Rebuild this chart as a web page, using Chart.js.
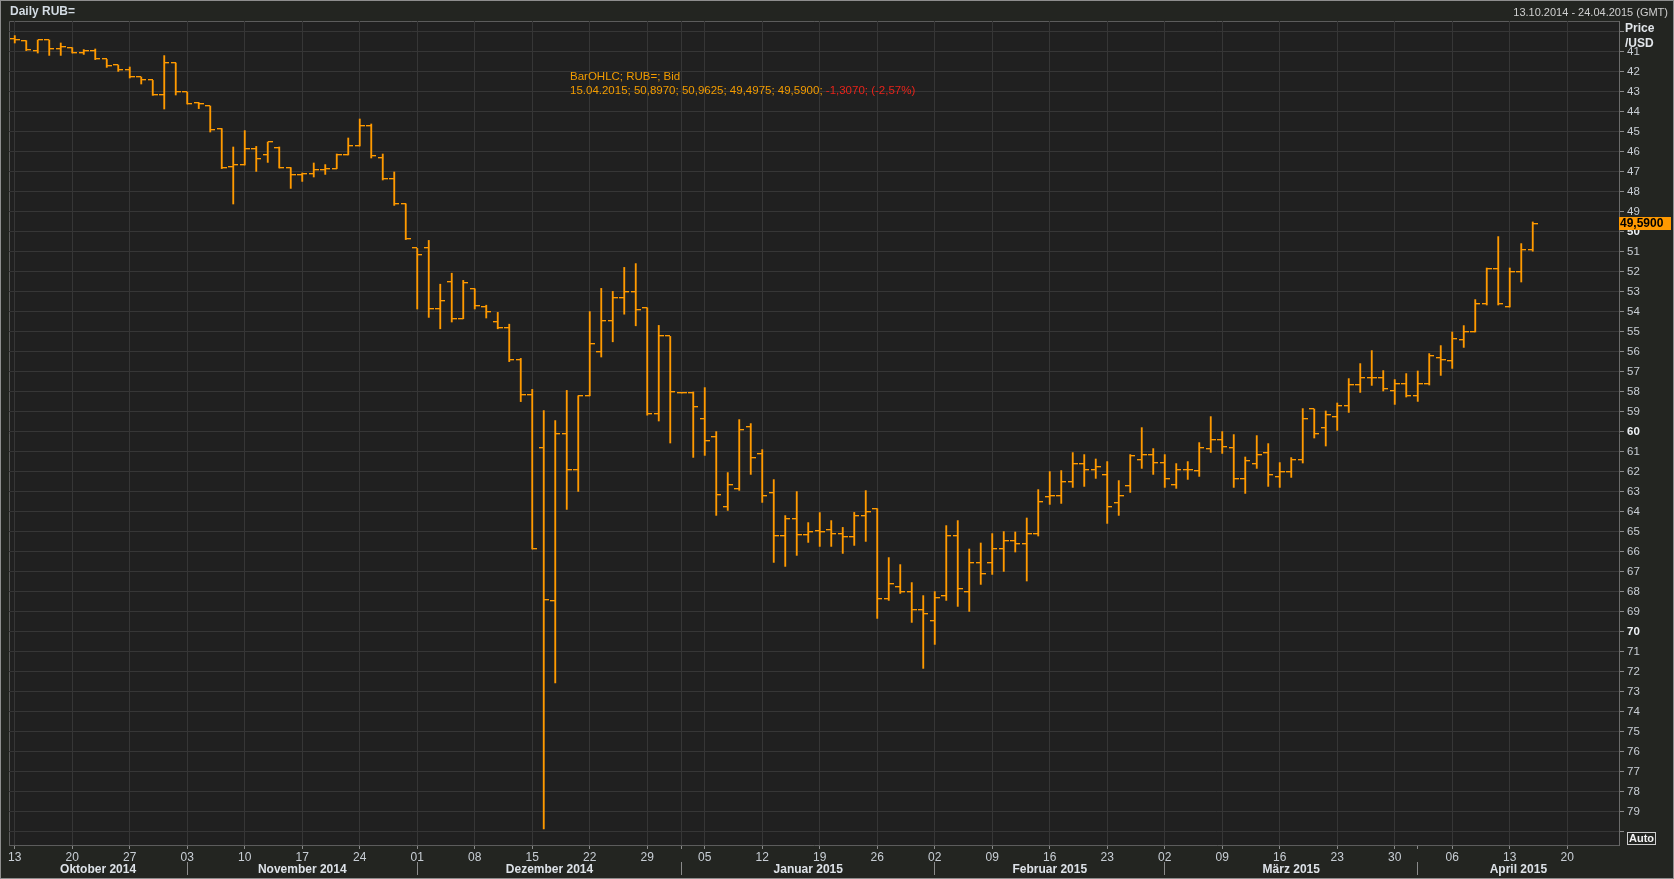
<!DOCTYPE html>
<html>
<head>
<meta charset="utf-8">
<script src="https://cdn.jsdelivr.net/npm/chart.js@4.4.1/dist/chart.umd.min.js"></script>
<style>
  html, body { margin: 0; padding: 0; background: #232521; }
  #wrap { position: relative; width: 1674px; height: 879px; overflow: hidden; font-family: 'Liberation Sans', Arial, sans-serif; }
  #wrap canvas { position: absolute; left: 0; top: 0; }
  .txt { position: absolute; white-space: pre; }
  #title { left: 10px; top: 4px; font-size: 12px; font-weight: bold; color: #d3dbe3; line-height: 14px; }
  #range { right: 6px; top: 5px; font-size: 11px; color: #cfcfcf; line-height: 14px; }
  #legend { left: 570px; top: 69px; font-size: 11.5px; line-height: 14px; color: #f39c00; }
  #legend .neg { color: #e8231a; }
  #unit { left: 1625px; top: 21px; font-size: 12px; font-weight: bold; color: #e2e6ea; line-height: 15px; }
  #last { left: 1619px; width: 51px; height: 13px; background: #ff9900; color: #000; font-size: 12px; font-weight: bold; line-height: 13px; padding-left: 1px; }
  #auto { left: 1627px; top: 832px; width: 27px; height: 11px; border: 1px solid #cfcfcf; color: #f2f2f2; font-size: 11px; font-weight: bold; line-height: 11px; text-align: center; }
</style>
</head>
<body>
<div id="wrap">
  <canvas id="chart" width="1674" height="879"></canvas>
  <div class="txt" id="title">Daily RUB=</div>
  <div class="txt" id="range">13.10.2014 - 24.04.2015 (GMT)</div>
  <div class="txt" id="legend"></div>
  <div class="txt" id="unit">Price
/USD</div>
  <div class="txt" id="last"></div>
  <div class="txt" id="auto">Auto</div>
</div>
<script>
// weekdays shown on the axis (13.10.2014 - 24.04.2015)
const dates = [
  '13.10.2014','14.10.2014','15.10.2014','16.10.2014','17.10.2014',
  '20.10.2014','21.10.2014','22.10.2014','23.10.2014','24.10.2014',
  '27.10.2014','28.10.2014','29.10.2014','30.10.2014','31.10.2014',
  '03.11.2014','04.11.2014','05.11.2014','06.11.2014','07.11.2014',
  '10.11.2014','11.11.2014','12.11.2014','13.11.2014','14.11.2014',
  '17.11.2014','18.11.2014','19.11.2014','20.11.2014','21.11.2014',
  '24.11.2014','25.11.2014','26.11.2014','27.11.2014','28.11.2014',
  '01.12.2014','02.12.2014','03.12.2014','04.12.2014','05.12.2014',
  '08.12.2014','09.12.2014','10.12.2014','11.12.2014','12.12.2014',
  '15.12.2014','16.12.2014','17.12.2014','18.12.2014','19.12.2014',
  '22.12.2014','23.12.2014','24.12.2014','25.12.2014','26.12.2014',
  '29.12.2014','30.12.2014','31.12.2014','01.01.2015','02.01.2015',
  '05.01.2015','06.01.2015','07.01.2015','08.01.2015','09.01.2015',
  '12.01.2015','13.01.2015','14.01.2015','15.01.2015','16.01.2015',
  '19.01.2015','20.01.2015','21.01.2015','22.01.2015','23.01.2015',
  '26.01.2015','27.01.2015','28.01.2015','29.01.2015','30.01.2015',
  '02.02.2015','03.02.2015','04.02.2015','05.02.2015','06.02.2015',
  '09.02.2015','10.02.2015','11.02.2015','12.02.2015','13.02.2015',
  '16.02.2015','17.02.2015','18.02.2015','19.02.2015','20.02.2015',
  '23.02.2015','24.02.2015','25.02.2015','26.02.2015','27.02.2015',
  '02.03.2015','03.03.2015','04.03.2015','05.03.2015','06.03.2015',
  '09.03.2015','10.03.2015','11.03.2015','12.03.2015','13.03.2015',
  '16.03.2015','17.03.2015','18.03.2015','19.03.2015','20.03.2015',
  '23.03.2015','24.03.2015','25.03.2015','26.03.2015','27.03.2015',
  '30.03.2015','31.03.2015','01.04.2015','02.04.2015','03.04.2015',
  '06.04.2015','07.04.2015','08.04.2015','09.04.2015','10.04.2015',
  '13.04.2015','14.04.2015','15.04.2015','16.04.2015','17.04.2015',
  '20.04.2015','21.04.2015','22.04.2015','23.04.2015','24.04.2015'
];

const open = [
  40.35,40.43,40.95,40.40,40.85, 40.78,41.05,40.93,41.37,41.65,
  41.92,42.25,42.42,43.15,41.55, 43.00,43.53,43.70,44.83,46.77,
  46.65,45.83,46.15,45.82,46.78, 47.15,47.10,46.90,46.83,46.15,
  45.68,44.70,46.30,47.35,48.59, 50.82,50.78,53.83,52.48,54.34,
  52.84,53.73,54.48,54.82,56.38, 58.13,60.82,68.44,60.10,61.89,
  58.19,56.00,54.44,53.31,52.99, 53.79,59.09,55.22,58.05,58.05,
  59.35,60.25,63.75,62.85,59.75, 61.10,63.05,65.20,64.35,65.15,
  64.95,64.90,65.10,65.23,64.20, 63.83,68.35,67.75,68.00,68.90,
  69.45,68.20,65.20,68.00,66.55, 66.55,65.85,65.45,65.60,65.10,
  63.25,63.20,62.48,61.60,61.90, 62.15,63.55,62.70,61.40,61.15,
  61.53,62.65,61.90,61.95,60.85, 60.40,60.80,62.35,61.60,61.03,
  62.25,61.98,61.40,58.85,59.80, 59.25,58.70,57.65,57.30,57.30,
  57.95,57.58,58.20,57.58,56.30, 56.45,55.40,55.00,53.60,51.85,
  53.75,52.00,50.897,null,null, null,null,null,null,null
];
const high = [
  40.55,40.93,41.05,41.17,41.17, 41.05,41.12,41.38,41.77,41.97,
  42.30,42.60,43.17,43.85,43.15, 43.60,43.83,45.00,46.83,48.60,
  46.65,46.97,46.52,46.80,47.82, 47.47,47.25,47.12,46.83,46.15,
  45.70,46.30,47.40,48.67,50.38, 53.85,54.27,54.84,54.50,54.34,
  53.85,54.30,54.84,56.48,58.48, 65.85,79.85,72.55,63.87,62.97,
  58.19,56.25,55.49,54.11,54.69, 59.16,59.45,60.55,58.05,61.27,
  61.17,64.17,63.92,62.92,62.12, 63.52,66.52,66.72,66.17,65.52,
  65.72,65.72,66.07,65.67,65.47, 69.32,68.42,68.07,69.52,71.82,
  70.62,68.42,68.72,68.97,67.62, 67.12,66.97,66.00,67.45,65.20,
  63.62,63.57,62.77,62.72,62.32, 64.57,64.17,63.02,61.82,62.12,
  62.77,62.82,62.37,62.22,61.02, 61.07,62.77,63.07,61.82,62.72,
  62.77,62.27,61.55,60.30,60.70, 59.92,59.02,58.02,57.67,57.95,
  58.62,58.25,58.47,57.65,57.17, 56.82,55.77,55.00,53.65,53.65,
  53.75,52.50,50.9625,null,null, null,null,null,null,null
];
const low = [
  40.18,40.43,40.40,40.40,40.55, 40.78,40.88,40.85,41.37,41.65,
  41.75,42.25,42.42,41.18,41.55, 43.00,43.53,43.70,44.83,45.75,
  44.93,45.72,45.50,45.75,46.78, 47.05,46.55,46.63,46.10,45.30,
  44.35,44.60,46.10,47.00,48.59, 50.82,50.42,52.61,52.06,52.42,
  52.84,53.66,54.02,54.61,56.32, 57.87,58.93,59.43,57.92,58.19,
  53.98,52.82,52.97,51.77,51.58, 53.79,54.67,55.22,58.05,58.00,
  57.78,59.98,62.03,59.38,59.58, 60.88,62.38,64.18,62.98,64.53,
  64.03,64.43,64.77,64.02,62.93, 63.83,66.28,66.63,67.53,68.18,
  67.98,64.68,64.43,65.85,65.55, 65.08,64.98,65.00,64.30,62.88,
  61.98,61.93,61.03,61.13,61.35, 61.48,62.43,61.13,59.78,60.83,
  61.13,61.58,61.48,60.53,59.23, 59.98,60.13,61.25,60.18,60.58,
  61.53,61.28,58.83,58.85,58.95, 58.55,57.33,56.58,55.93,56.93,
  57.38,57.08,56.95,56.08,55.68, 55.00,54.68,53.38,51.80,50.23,
  51.80,50.58,49.4975,null,null, null,null,null,null,null
];
const close = [
  40.38,40.92,40.40,40.85,40.75, 41.05,40.95,41.37,41.72,41.92,
  42.27,42.42,43.15,41.55,43.00, 43.60,43.60,44.88,46.80,46.65,
  45.83,46.33,45.50,46.78,47.15, 47.10,46.92,46.83,46.15,45.68,
  44.70,46.20,47.35,48.59,50.34, 51.14,53.83,53.43,54.34,52.57,
  53.68,54.02,54.82,56.40,58.17, 65.85,68.40,60.10,61.89,58.19,
  55.60,54.44,53.31,52.99,53.89, 59.09,55.22,58.00,58.05,58.75,
  60.45,63.15,62.65,59.90,61.30, 63.20,65.20,64.35,65.15,65.00,
  65.00,65.10,65.23,64.20,64.00, 68.35,67.58,68.00,68.90,69.10,
  68.30,65.20,67.85,66.55,67.08, 65.85,65.45,65.60,65.10,63.50,
  63.20,62.48,61.60,61.90,61.75, 63.75,63.20,61.20,61.15,61.53,
  62.35,61.90,61.90,60.80,60.40, 60.75,62.35,61.45,61.15,62.15,
  61.98,61.40,59.35,60.08,59.15, 58.70,57.65,57.30,57.30,57.83,
  57.58,58.20,57.58,56.18,56.40, 55.35,55.00,53.60,51.85,53.60,
  52.00,50.897,49.59,null,null, null,null,null,null,null
];

const monthNames = ['Januar','Februar','März','April','Mai','Juni','Juli','August','September','Oktober','November','Dezember'];
const yMin = 39.45, yMax = 80.65;

const ORANGE = '#ff9a00';
const GRID = '#363636';
const TICK = '#8a8a8a';
const LABEL = '#c9cfd6';

const toDate = s => new Date(+s.slice(6), +s.slice(3, 5) - 1, +s.slice(0, 2));
const isMonday = i => i >= 0 && i < dates.length && toDate(dates[i]).getDay() === 1;
const isMonthStart = i => i > 0 && i < dates.length && dates[i].slice(3, 5) !== dates[i - 1].slice(3, 5);
const isYearStart = i => i > 0 && i < dates.length && dates[i].slice(6) !== dates[i - 1].slice(6);
const isTen = ctx => !!(ctx && ctx.tick && ctx.tick.value % 10 === 0);

// month segments for the lower label row
const boundaries = [];
dates.forEach((d, i) => { if (isMonthStart(i)) boundaries.push(i); });
const edges = [-0.5, ...boundaries, dates.length - 0.5];
const monthTicks = [];
const monthLabel = new Map();
const boundarySet = new Set(boundaries);
for (let k = 0; k < edges.length - 1; k++) {
  const c = (edges[k] + edges[k + 1]) / 2;
  const first = dates[Math.ceil(edges[k])];
  monthLabel.set(c, monthNames[+first.slice(3, 5) - 1] + ' ' + first.slice(6));
  monthTicks.push(c);
}
boundaries.forEach(b => monthTicks.push(b));
monthTicks.sort((a, b) => a - b);

// open / close tick marks as point images
function tickImage(side) {
  const c = document.createElement('canvas');
  c.width = 10; c.height = 2;
  const g = c.getContext('2d');
  const x0 = side === 'left' ? 0 : 5;
  g.fillStyle = ORANGE;
  g.fillRect(x0, 0, 5, 1);
  g.globalAlpha = 0.35;
  g.fillRect(x0, 1, 5, 1);
  return c;
}

const hl = high.map((h, i) => (h == null ? null : [low[i], h]));

const framePlugin = {
  id: 'frame',
  beforeDraw(chart) {
    const { ctx, chartArea: a, width, height } = chart;
    ctx.save();
    ctx.fillStyle = '#232521';
    ctx.fillRect(0, 0, width, height);
    ctx.fillStyle = '#202020';
    ctx.fillRect(a.left, a.top, a.right - a.left, a.bottom - a.top);
    ctx.strokeStyle = '#5c5c5c';
    ctx.lineWidth = 1;
    ctx.beginPath();
    ctx.moveTo(a.left + 0.5, a.bottom);
    ctx.lineTo(a.left + 0.5, a.top + 0.5);
    ctx.lineTo(a.right, a.top + 0.5);
    ctx.stroke();
    ctx.strokeStyle = '#8e8e8e';
    ctx.strokeRect(0.5, 0.5, width - 1, height - 1);
    ctx.restore();
  },
  beforeDatasetsDraw(chart) {
    chart.ctx.save();
    chart.ctx.imageSmoothingEnabled = false;
  },
  afterDatasetsDraw(chart) {
    chart.ctx.restore();
  }
};

const chart = new Chart(document.getElementById('chart'), {
  type: 'bar',
  data: {
    labels: dates,
    datasets: [
      {
        type: 'bar',
        data: hl,
        xAxisID: 'x', yAxisID: 'y',
        backgroundColor: ORANGE,
        borderWidth: 0,
        barThickness: 1.2
      },
      {
        type: 'line',
        data: open,
        xAxisID: 'x', yAxisID: 'y',
        showLine: false,
        pointStyle: tickImage('left'),
        pointRadius: 2,
        pointHoverRadius: 2
      },
      {
        type: 'line',
        data: close,
        xAxisID: 'x', yAxisID: 'y',
        showLine: false,
        pointStyle: tickImage('right'),
        pointRadius: 2,
        pointHoverRadius: 2
      }
    ]
  },
  options: {
    responsive: false,
    animation: false,
    events: [],
    layout: { padding: { left: 9, top: 21, right: 0, bottom: 0 } },
    plugins: { legend: { display: false }, tooltip: { enabled: false } },
    scales: {
      x: {
        type: 'category',
        position: 'bottom',
        offset: true,
        weight: 0,
        afterFit: s => { s.height = 17; },
        border: { display: true, color: '#5c5c5c' },
        grid: {
          offset: false,
          drawOnChartArea: true,
          tickLength: 4,
          color: ctx => (isMonday(ctx.index) || isYearStart(ctx.index)) ? GRID : 'transparent',
          tickColor: ctx => (isMonday(ctx.index) || isMonthStart(ctx.index)) ? TICK : 'transparent'
        },
        ticks: {
          autoSkip: false,
          maxRotation: 0,
          minRotation: 0,
          padding: 1,
          color: LABEL,
          font: { family: "'Liberation Sans Narrow', 'Liberation Sans', sans-serif", size: 12 },
          callback: (v, i) => isMonday(i) ? dates[i].slice(0, 2) : ''
        }
      },
      x2: {
        type: 'linear',
        position: 'bottom',
        weight: 1,
        min: -0.5,
        max: dates.length - 0.5,
        offset: false,
        afterFit: s => { s.height = 17; },
        afterBuildTicks: s => { s.ticks = monthTicks.map(v => ({ value: v })); },
        border: { display: false },
        grid: {
          offset: false,
          drawOnChartArea: false,
          tickLength: 13,
          color: 'transparent',
          tickColor: ctx => (ctx && ctx.tick && boundarySet.has(ctx.tick.value)) ? TICK : 'transparent'
        },
        ticks: {
          autoSkip: false,
          maxRotation: 0,
          minRotation: 0,
          padding: -13,
          color: '#dde2e8',
          font: { family: "'Liberation Sans', Arial, sans-serif", size: 12, weight: 'bold' },
          callback: v => monthLabel.get(v) || ''
        }
      },
      y: {
        type: 'linear',
        position: 'right',
        reverse: true,
        min: yMin,
        max: yMax,
        afterFit: s => { s.width = 55; },
        border: { display: true, color: '#6a6a6a' },
        grid: { color: GRID, tickLength: 5, tickColor: TICK },
        ticks: {
          stepSize: 1,
          includeBounds: false,
          padding: 3,
          color: ctx => isTen(ctx) ? '#eef2f6' : LABEL,
          font: ctx => ({ family: "'Liberation Sans', Arial, sans-serif", size: 11.5, weight: isTen(ctx) ? 'bold' : 'normal' }),
          callback: v => (v >= 41 && v <= 79) ? String(v) : ''
        }
      }
    }
  },
  plugins: [framePlugin]
});

// legend line and last price label from the data
let last = close.length - 1;
while (close[last] == null) last--;
const fmt = v => v.toFixed(4).replace('.', ',');
const chg = close[last] - close[last - 1];
const pct = chg / close[last - 1] * 100;
document.getElementById('legend').innerHTML =
  'BarOHLC; RUB=; Bid<br>' +
  dates[last] + '; ' + fmt(open[last]) + '; ' + fmt(high[last]) + '; ' + fmt(low[last]) + '; ' + fmt(close[last]) + '; ' +
  '<span class="neg">' + fmt(chg) + '; (' + pct.toFixed(2).replace('.', ',') + '%)</span>';

const lastEl = document.getElementById('last');
lastEl.textContent = fmt(close[last]);
lastEl.style.top = (chart.scales.y.getPixelForValue(close[last]) - 6.5) + 'px';
</script>
</body>
</html>
